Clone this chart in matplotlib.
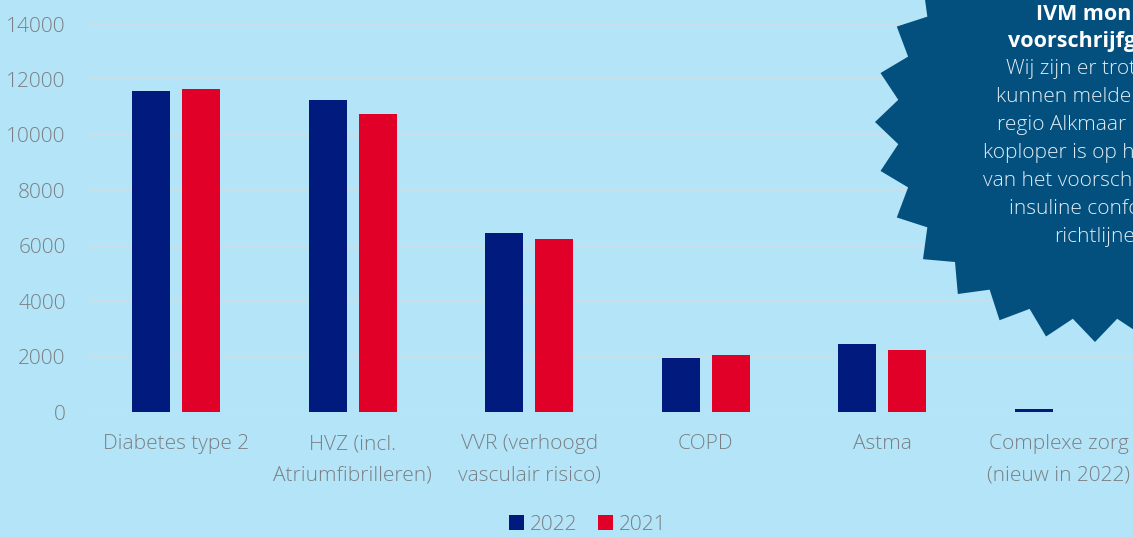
import numpy as np
import matplotlib
matplotlib.use("Agg")
import matplotlib.pyplot as plt
from matplotlib.patches import Polygon

categories = ["Diabetes type 2", "HVZ (incl.\nAtriumfibrilleren)", "VVR (verhoogd\nvasculair risico)",
              "COPD", "Astma", "Complexe zorg\n(nieuw in 2022)"]
vals_2022 = [11580, 11260, 6460, 1950, 2450, 110]
vals_2021 = [11650, 10750, 6240, 2060, 2240, 0]
series_names = ["2022", "2021"]
yticks = [0, 2000, 4000, 6000, 8000, 10000, 12000, 14000]

badge_title = ["IVM monitor", "voorschrijfgedrag"]
badge_body = ["Wij zijn er trots op te", "kunnen melden dat de", "regio Alkmaar landelijk",
              "koploper is op het gebied", "van het voorschrijven van", "insuline conform de",
              "richtlijnen."]

BG = "#b3e4f7"
NAVY = "#001a7e"
RED = "#e00028"
BADGE = "#03507f"
GRAY = "#7b7f83"

plt.rcParams["font.family"] = ["Open Sans", "DejaVu Sans"]

W, H = 1133, 537
fig = plt.figure(figsize=(W / 100, H / 100), dpi=100, facecolor=BG)
ax = fig.add_axes([88 / W, 1 - 412 / H, (1147 - 88) / W, 388 / H])
ax.set_facecolor(BG)

x = np.arange(len(categories))
bw = 0.215
off = 0.142
ax.bar(x - off, vals_2022, bw, color=NAVY, label=series_names[0], zorder=3)
ax.bar(x + off, vals_2021, bw, color=RED, label=series_names[1], zorder=3)

ax.set_xlim(-0.5, len(categories) - 0.5)
ax.set_ylim(0, 14000)
ax.set_yticks(yticks)
ax.set_yticklabels([str(v) for v in yticks])
ax.set_xticks(x)
ax.set_xticklabels(categories, linespacing=1.75)
ax.tick_params(axis="both", length=0, labelsize=15, colors=GRAY)
ax.tick_params(axis="y", pad=16)
ax.tick_params(axis="x", pad=16)
for lab in ax.get_xticklabels() + ax.get_yticklabels():
    lab.set_fontweight("light")
ax.grid(axis="y", color="#cfdde6", linewidth=1.2, zorder=1)
for s in ax.spines.values():
    s.set_visible(False)

leg = fig.legend(loc="center", bbox_to_anchor=(588 / W, 1 - 525 / H), ncol=2, frameon=False,
                 handlelength=0.7, handleheight=0.7, handletextpad=0.3, columnspacing=1.0,
                 fontsize=15)
for t in leg.get_texts():
    t.set_color(GRAY)
    t.set_fontweight("light")

# starburst badge, drawn in pixel coordinates on an overlay axes
ov = fig.add_axes([0, 0, 1, 1])
ov.set_xlim(0, W)
ov.set_ylim(H, 0)
ov.axis("off")
cx, cy, r_out, r_in, n = 1095, 122, 220, 198, 28
ang = np.linspace(0, 2 * np.pi, 2 * n, endpoint=False) + np.pi / 2
rad = np.where(np.arange(2 * n) % 2 == 0, r_out, r_in)
pts = np.column_stack([cx + rad * np.cos(ang), cy + rad * np.sin(ang)])
ov.add_patch(Polygon(pts, closed=True, facecolor=BADGE, edgecolor="none"))

tx = 1103
for i, line in enumerate(badge_title):
    ov.text(tx, 15 + i * 27, line, ha="center", va="center", color="white",
            fontsize=15.5, fontweight="bold")
for i, line in enumerate(badge_body):
    ov.text(tx, 69 + i * 28, line, ha="center", va="center", color="#e2edf3",
            fontsize=15, fontweight="light")

fig.savefig("out.png", dpi=100, facecolor=BG)
